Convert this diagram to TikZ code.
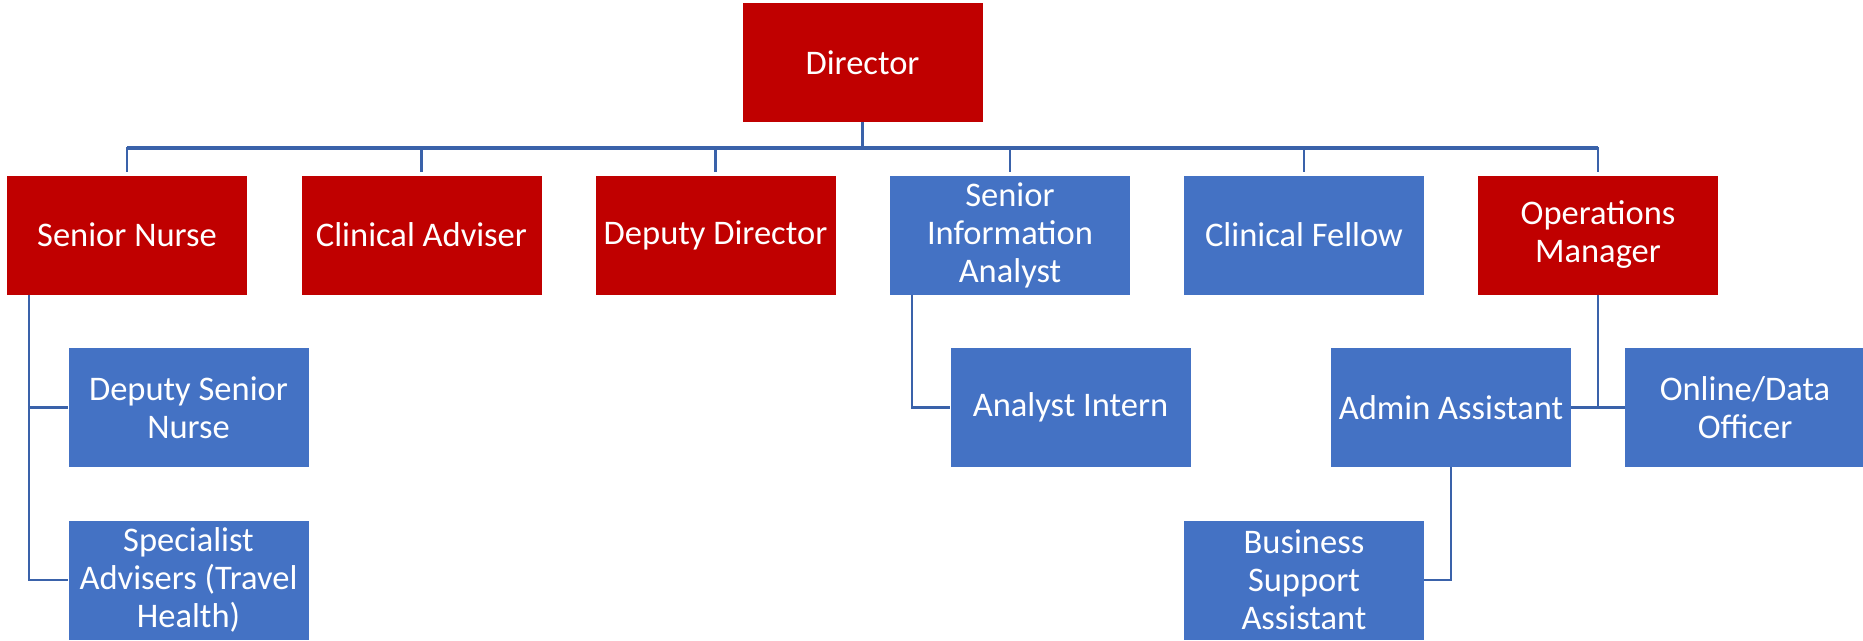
\documentclass[tikz,border=0pt]{standalone}
\usepackage{fontspec}
\usetikzlibrary{calc}
\setmainfont{Carlito}
\definecolor{boxred}{HTML}{C00000}
\definecolor{boxblue}{HTML}{4472C4}
\definecolor{linkblue}{RGB}{58,98,170}
\begin{document}
\begin{tikzpicture}[x=1pt,y=1pt,
  box/.style={draw=none, minimum width=240pt, minimum height=119pt, inner sep=2pt,
    text=white, align=center, font=\fontsize{34.5}{38}\selectfont},
  redbox/.style={box, fill=boxred},
  bluebox/.style={box, fill=boxblue},
  link/.style={draw=linkblue, line width=2.5pt},
  toplink/.style={draw=linkblue, line width=2.5pt},
  barlink/.style={draw=linkblue, line width=3.5pt}]
\useasboundingbox (0,0) rectangle (1863,-640);
% top
\node[redbox] (dir) at (862.5,-62.5) {Director};
% row 1
\node[redbox]  (sn)  at (127,-235)    {Senior Nurse};
\node[redbox]  (ca)  at (421.5,-235)  {Clinical Adviser};
\node[redbox]  (dd)  at (715.5,-235)  {Deputy Director};
\node[bluebox] (sia) at (1010,-235)   {Senior\\Information\\Analyst};
\node[bluebox] (cf)  at (1304,-235)   {Clinical Fellow};
\node[redbox]  (om)  at (1598,-235)   {Operations\\Manager};
% row 2
\node[bluebox] (dsn) at (188.5,-407.5) {Deputy Senior\\Nurse};
\node[bluebox] (ai)  at (1070.5,-407.5) {Analyst Intern};
\node[bluebox] (aa)  at (1451,-407.5)  {Admin Assistant};
\node[bluebox] (od)  at (1745,-407.5)  {Online/Data\\Officer};
% row 3
\node[bluebox] (sa)  at (188.5,-580)   {Specialist\\Advisers (Travel\\Health)};
\node[bluebox] (bsa) at (1304,-580)    {Business\\Support\\Assistant};
% connectors from Director
\coordinate (bar) at ($(dir.south)+(0,-26)$);
\foreach \c in {sn,ca,dd,sia,cf,om}{
  \draw[toplink] (dir.south) -- (bar) -| ([yshift=3pt]\c.north);
}
\draw[barlink] (bar -| sn.north) -- (bar -| om.north);
% Senior Nurse children
\coordinate (snl) at ($(sn.south west)+(22,0)$);
\draw[link] (snl) |- (dsn.west);
\draw[link] (snl) |- (sa.west);
% Senior Information Analyst child
\coordinate (sial) at ($(sia.south west)+(22,0)$);
\draw[link] (sial) |- (ai.west);
% Operations Manager children
\draw[link] (om.south) |- (aa.east);
\draw[link] (om.south) |- (od.west);
% Admin Assistant child
\draw[link] (aa.south) |- (bsa.east);
\end{tikzpicture}
\end{document}
